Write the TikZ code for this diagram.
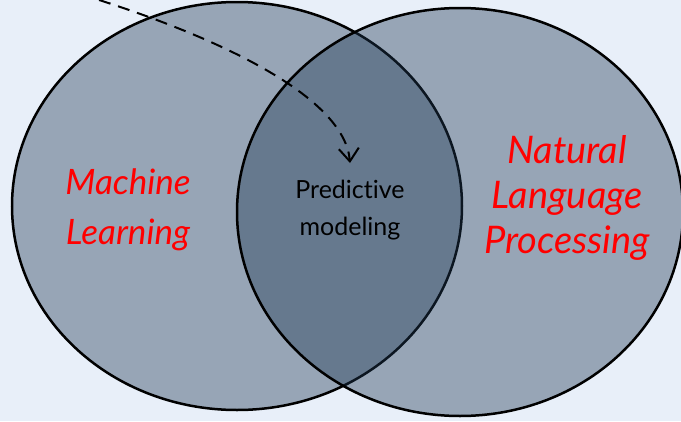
\documentclass[tikz,border=0pt]{standalone}
\usepackage{fontspec}
\setmainfont{Lato}[Ligatures={NoCommon}]
\usepackage{tikz}
\usetikzlibrary{
  shapes.geometric, arrows.meta, positioning
}
\definecolor{pagebg}{RGB}{232,239,249}
\definecolor{setblue}{RGB}{30,56,83}
\definecolor{labred}{RGB}{255,0,0}
\tikzstyle{setnode}  = [ellipse, draw=black, line width=2.5pt, fill=setblue, fill opacity=0.4, inner sep=0pt]
\tikzstyle{setlabel} = [align=center, text=labred, font=\itshape]
\tikzstyle{midlabel} = [align=center, text=black, font=\fontsize{25}{37}\selectfont]
\tikzstyle{arrow}    = [line width=2pt, dash pattern=on 12pt off 8pt,
                        -{Straight Barb[length=13pt, width=20pt]}]

\begin{document}
\begin{tikzpicture}[x=1pt, y=-1pt]

  \fill[pagebg] (0,0) rectangle (681,421);
  \useasboundingbox (0,0) rectangle (681,421);

  \node[setnode, minimum width=450pt, minimum height=408pt] (ml)  at (237,206) {};
  \node[setnode, minimum width=446pt, minimum height=408pt] (nlp) at (460,212) {};

  \node[setlabel, font=\fontsize{35}{50}\selectfont\itshape] (mlt)  at (128,210) {Machine\\Learning};
  \node[setlabel, font=\fontsize{38}{45}\selectfont\itshape] (nlpt) at (567,198) {Natural\\Language\\Processing};

  \coordinate (src) at (80,-6);
  \coordinate (tip) at (350,163);
  \node[midlabel, below=14pt of tip] (pm) {Predictive\\modeling};

  \draw[arrow] (src) .. controls (230,40) and (345,100) .. (tip);
\end{tikzpicture}
\end{document}
